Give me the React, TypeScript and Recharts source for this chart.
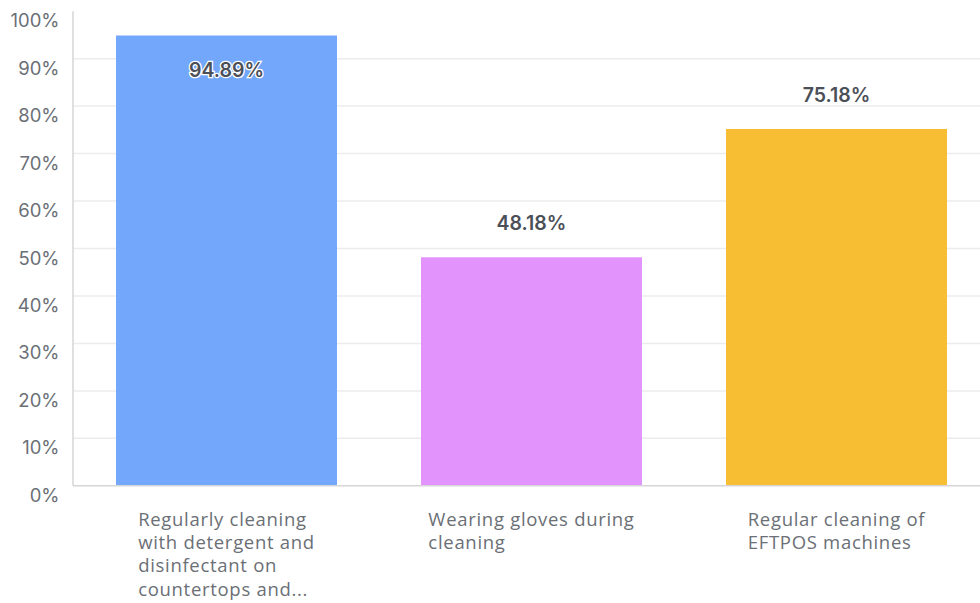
import React from "react";
import { BarChart, Bar, XAxis, YAxis, CartesianGrid, Cell, LabelList } from "recharts";

const categories = [
  "Regularly cleaning|with detergent and|disinfectant on|countertops and...",
  "Wearing gloves during|cleaning",
  "Regular cleaning of|EFTPOS machines",
];
const values = [94.89, 48.18, 75.18];
const colors = ["#72A7FB", "#E394FC", "#F7BD33"];
const yTicks = [0, 10, 20, 30, 40, 50, 60, 70, 80, 90, 100];
const gridValues = [10, 20, 30, 40, 50, 60, 70, 80, 90];

const data = categories.map((c, i) => ({ name: c, value: values[i] }));

const X_FONT_SIZE = 18.5;
const X_LETTER = 0.7;
const X_FONT = "'Open Sans', sans-serif";

let ctx: CanvasRenderingContext2D | null = null;
const measure = (s: string) => {
  if (typeof document === "undefined") return s.length * X_FONT_SIZE * 0.52;
  if (!ctx) ctx = document.createElement("canvas").getContext("2d");
  if (!ctx) return s.length * X_FONT_SIZE * 0.52;
  ctx.font = `${X_FONT_SIZE}px 'Open Sans'`;
  return ctx.measureText(s).width + X_LETTER * s.length;
};

const XTick = (props: any) => {
  const { x, y, payload } = props;
  const lines = String(payload.value).split("|");
  const maxW = Math.max(...lines.map(measure));
  const left = x - maxW / 2;
  return (
    <text
      x={left}
      y={y}
      textAnchor="start"
      fill="#6b6f76"
      fontSize={X_FONT_SIZE}
      letterSpacing={X_LETTER}
      fontFamily={X_FONT}
    >
      {lines.map((l, i) => (
        <tspan key={i} x={left} y={y + 40 + i * 23.3}>
          {l}
        </tspan>
      ))}
    </text>
  );
};

const YTick = (props: any) => {
  const { y, payload } = props;
  return (
    <text x={59.5} y={y + 16} textAnchor="end" fill="#6b6f76" fontSize={18.5} fontFamily="Inter, sans-serif">
      {payload.value}%
    </text>
  );
};

const ValueLabel = (props: any) => {
  const { x, y, width, value } = props;
  const cx = x + width / 2;
  const inside = y - 34 < 25;
  const ty = inside ? y + 35 : y - 34;
  return (
    <text
      x={cx}
      y={ty + 7}
      textAnchor="middle"
      fill="#4b5058"
      fontSize={19.5}
      fontWeight={600}
      fontFamily="Inter, sans-serif"
      stroke={inside ? "#ffffff" : "none"}
      strokeWidth={inside ? 2.5 : 0}
      paintOrder="stroke"
    >
      {Number(value).toFixed(2)}%
    </text>
  );
};

export default function App() {
  return (
    <div style={{ position: "absolute", left: 0, top: 0, width: 980, height: 603, overflow: "hidden", background: "#fff" }}>
      <BarChart
        width={989}
        height={603}
        data={data}
        margin={{ top: 11.2, right: 0, bottom: 0, left: 0 }}
        barCategoryGap={42}
      >
        <CartesianGrid vertical={false} stroke="#ececec" strokeWidth={1.5} horizontalValues={gridValues} />
        <XAxis
          dataKey="name"
          interval={0}
          height={117.2}
          tickLine={false}
          tickSize={0}
          tickMargin={0}
          axisLine={{ stroke: "#d6d6d6", strokeWidth: 1.5 }}
          tick={<XTick />}
          padding={{ left: 1, right: 0 }}
        />
        <YAxis
          width={73}
          domain={[0, 100]}
          ticks={yTicks}
          interval={0}
          tickLine={false}
          axisLine={{ stroke: "#d6d6d6", strokeWidth: 1.5 }}
          tick={<YTick />}
        />
        <Bar dataKey="value" isAnimationActive={false}>
          {data.map((d, i) => (
            <Cell key={i} fill={colors[i]} />
          ))}
          <LabelList dataKey="value" content={<ValueLabel />} />
        </Bar>
      </BarChart>
    </div>
  );
}
